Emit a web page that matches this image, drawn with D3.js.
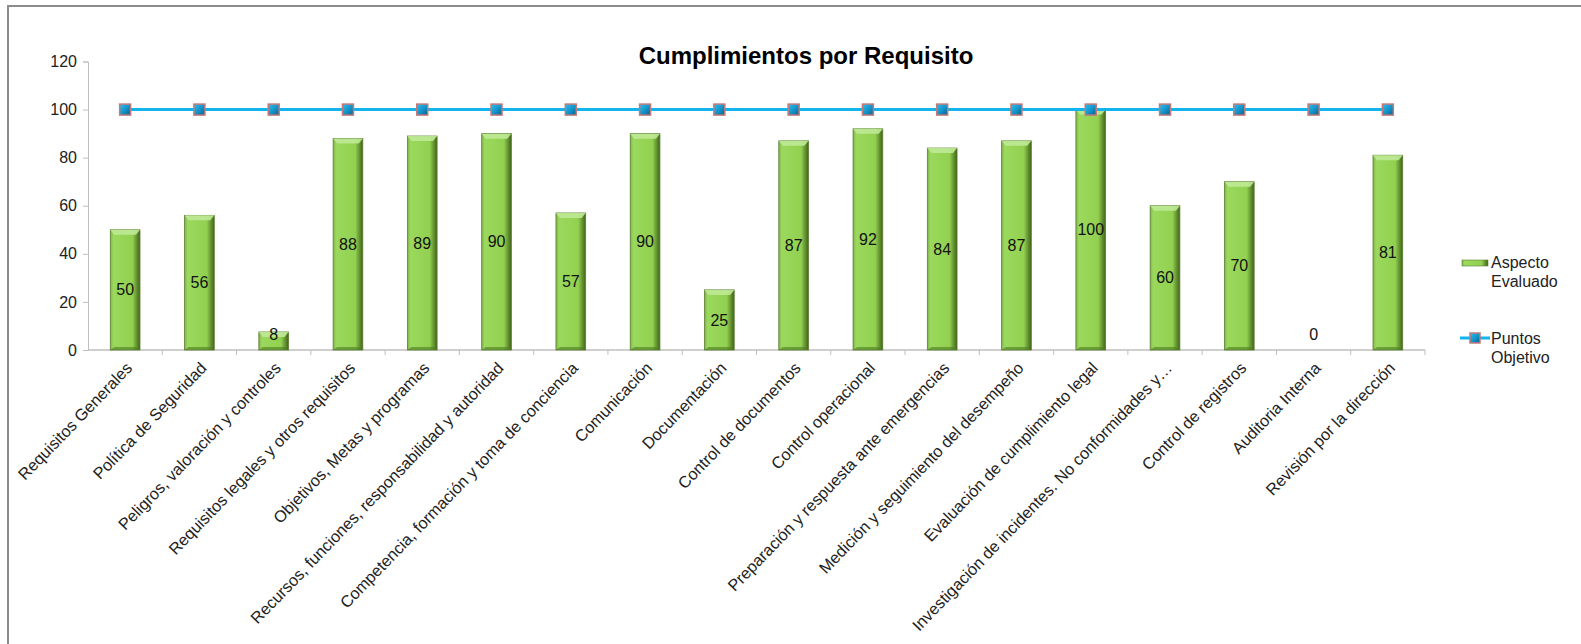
<!DOCTYPE html>
<html><head><meta charset="utf-8">
<script src="https://cdn.jsdelivr.net/npm/d3@7"></script>
<style>
html,body{margin:0;padding:0;background:#fff;}
svg{display:block;font-family:"Liberation Sans",Arial,sans-serif;}
</style></head>
<body>
<svg id="chart" width="1581" height="644"></svg>
<script>
const categories = ["Requisitos Generales","Política de Seguridad","Peligros, valoración y controles","Requisitos legales y otros requisitos","Objetivos, Metas y programas","Recursos, funciones, responsabilidad y autoridad","Competencia, formación y toma de conciencia","Comunicación","Documentación","Control de documentos","Control operacional","Preparación y respuesta ante emergencias","Medición y seguimiento del desempeño","Evaluación de cumplimiento legal","Investigación de incidentes. No conformidades y…","Control de registros","Auditoria Interna","Revisión por la dirección"];
const aspectoEvaluado = [50,56,7.5,88,89,90,57,90,25,87,92,84,87,100,60,70,0,81];
const puntosObjetivo = [100,100,100,100,100,100,100,100,100,100,100,100,100,100,100,100,100,100];
const yTicks = [0,20,40,60,80,100,120];
const title = "Cumplimientos por Requisito";
const legendLabels = [["Aspecto","Evaluado"],["Puntos","Objetivo"]];

const svg = d3.select("#chart");
const defs = svg.append("defs");
const g1 = defs.append("linearGradient").attr("id","barGrad").attr("x1","0").attr("x2","1").attr("y1","0").attr("y2","0");
[[0,"#7fb04a"],[0.1,"#9bd95e"],[0.75,"#92d050"],[0.86,"#6e9e38"],[1,"#3f6418"]].forEach(s=>g1.append("stop").attr("offset",s[0]).attr("stop-color",s[1]));
const g2 = defs.append("linearGradient").attr("id","mkGrad").attr("x1","0").attr("x2","1").attr("y1","0").attr("y2","1");
[[0,"#2ec0f0"],[0.5,"#1596cc"],[1,"#0b5f8c"]].forEach(s=>g2.append("stop").attr("offset",s[0]).attr("stop-color",s[1]));

// frame
svg.append("path").attr("d","M8,644 V6 H1581").attr("fill","none").attr("stroke","#8c8c8c").attr("stroke-width",2);

const x = d3.scaleBand().domain(categories).range([88,1425]).paddingInner(0.6).paddingOuter(0.3);
const xb = d3.scaleBand().domain(categories).range([88,1425]);
const y = d3.scaleLinear().domain([0,120]).range([350,61.5]);

// title
svg.append("text").attr("x",806).attr("y",64).attr("text-anchor","middle").attr("font-size",24).attr("font-weight","bold").attr("fill","#000").text(title);

// y axis
const yAxis = svg.append("g").attr("transform","translate(88,0)").call(d3.axisLeft(y).tickValues(yTicks).tickSize(5).tickPadding(6));
yAxis.select(".domain").attr("stroke","#bfbfbf");
yAxis.selectAll(".tick line").attr("stroke","#bfbfbf");
yAxis.selectAll(".tick text").attr("font-size",16).attr("fill","#222").attr("font-family","Liberation Sans, Arial, sans-serif");

// x axis line and ticks at boundaries
const xAxisG = svg.append("g");
xAxisG.append("line").attr("x1",88).attr("x2",1425).attr("y1",y(0)).attr("y2",y(0)).attr("stroke","#bfbfbf").attr("stroke-width",1.5);
xAxisG.selectAll("line.tk").data(categories).enter().append("line").attr("class","tk")
  .attr("x1",d=>xb(d)+xb.bandwidth()).attr("x2",d=>xb(d)+xb.bandwidth())
  .attr("y1",y(0)).attr("y2",y(0)+5).attr("stroke","#bfbfbf");
xAxisG.selectAll("text").data(categories).enter().append("text")
  .attr("transform",d=>`translate(${xb(d)+xb.bandwidth()/2+4},${y(0)+15}) rotate(-46)`)
  .attr("text-anchor","end").attr("dy","0.35em").attr("font-size",16.3).attr("fill","#222").text(d=>d);

// bars
const bars = svg.append("g");
categories.forEach((c,i)=>{
  const v = aspectoEvaluado[i];
  if(v<=0) return;
  const bx = x(c), bw = x.bandwidth(), by = y(v), bh = y(0)-y(v);
  bars.append("rect").attr("x",bx).attr("y",by).attr("width",bw).attr("height",bh).attr("fill","url(#barGrad)").attr("stroke","#5d7f34").attr("stroke-width",0.8);
  const bev = Math.min(5,bh/2);
  bars.append("path").attr("d",`M${bx},${by} H${bx+bw} L${bx+bw-4},${by+bev} H${bx+4} Z`).attr("fill","#bfe996").attr("opacity",0.9);
  bars.append("path").attr("d",`M${bx},${y(0)} H${bx+bw} L${bx+bw-4},${y(0)-Math.min(3,bh/2)} H${bx+4} Z`).attr("fill","#4d7a22").attr("opacity",0.6);
});
// data labels
svg.append("g").selectAll("text").data(categories).enter().append("text")
  .attr("x",d=>x(d)+x.bandwidth()/2)
  .attr("y",(d,i)=>Math.min(y(aspectoEvaluado[i]/2), y(0)-16))
  .attr("dy","0.35em").attr("text-anchor","middle").attr("font-size",16).attr("fill","#111")
  .text((d,i)=>d3.format(".0f")(aspectoEvaluado[i]));

// line
const line = d3.line().x((d,i)=>x(categories[i])+x.bandwidth()/2).y(d=>y(d));
svg.append("path").datum(puntosObjetivo).attr("d",line).attr("fill","none").attr("stroke","#12b4ee").attr("stroke-width",3);
svg.append("g").selectAll("rect").data(puntosObjetivo).enter().append("rect")
  .attr("x",(d,i)=>x(categories[i])+x.bandwidth()/2-5.5).attr("y",d=>y(d)-5.5)
  .attr("width",11).attr("height",11).attr("fill","url(#mkGrad)").attr("stroke","#c47a7a").attr("stroke-width",1.5);

// legend
const lg = svg.append("g");
lg.append("rect").attr("x",1462).attr("y",260).attr("width",26).attr("height",6).attr("fill","url(#barGrad)").attr("stroke","#5d7f34").attr("stroke-width",0.6);
lg.append("text").attr("x",1491).attr("y",268).attr("font-size",16).attr("fill","#222")
  .selectAll("tspan").data(legendLabels[0]).enter().append("tspan").attr("x",1491).attr("dy",(d,i)=>i?19:0).text(d=>d);
lg.append("line").attr("x1",1460).attr("x2",1490).attr("y1",338).attr("y2",338).attr("stroke","#12b4ee").attr("stroke-width",3);
lg.append("rect").attr("x",1470).attr("y",333).attr("width",10).attr("height",10).attr("fill","url(#mkGrad)").attr("stroke","#c47a7a").attr("stroke-width",1.5);
lg.append("text").attr("x",1491).attr("y",344).attr("font-size",16).attr("fill","#222")
  .selectAll("tspan").data(legendLabels[1]).enter().append("tspan").attr("x",1491).attr("dy",(d,i)=>i?19:0).text(d=>d);
</script>
</body></html>
